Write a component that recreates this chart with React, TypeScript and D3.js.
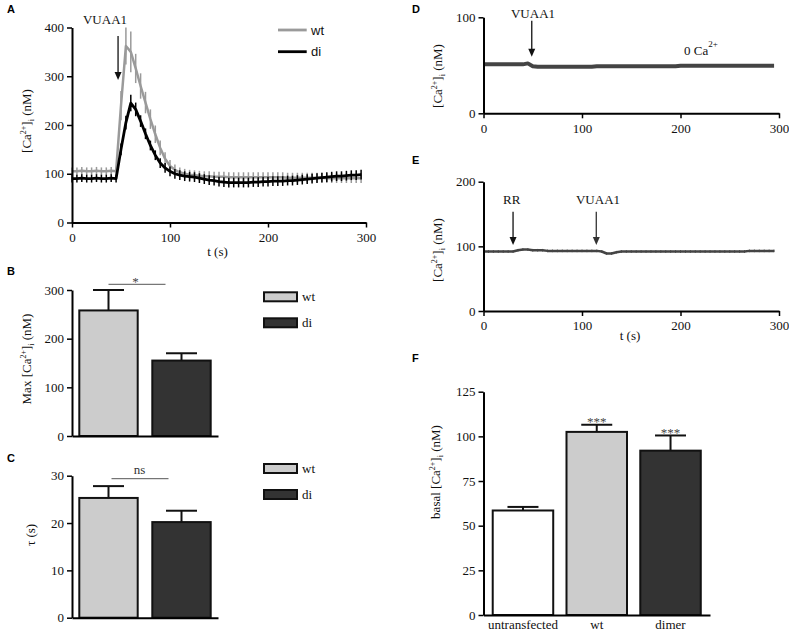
import { useEffect, useRef } from 'react'
import * as d3 from 'd3'

const SERIF = '"Liberation Serif", "Times New Roman", serif'
const SANS = '"Liberation Sans", Arial, sans-serif'

// sampling times (s) shared by the traces in A, D and E
const timePoints = [
	0, 5, 10, 15, 20, 25, 30, 35, 40, 45, 50, 55, 60, 65, 70, 75, 80, 85, 90, 95,
	100, 105, 110, 115, 120, 125, 130, 135, 140, 145, 150, 155, 160, 165, 170, 175, 180, 185, 190, 195,
	200, 205, 210, 215, 220, 225, 230, 235, 240, 245, 250, 255, 260, 265, 270, 275, 280, 285, 290, 295,
]

// A: mean [Ca2+]i traces
const wtMean = [
	105, 105, 106, 105, 105, 106, 105, 105, 106, 105, 240, 362, 350, 316, 280, 246, 212, 181, 153, 131,
	116, 108, 103, 100, 98, 97, 96, 95, 95, 94, 94, 94, 93, 93, 93, 93, 93, 93, 93, 93,
	93, 93, 93, 93, 92, 92, 92, 92, 92, 92, 92, 92, 91, 91, 91, 91, 91, 91, 91, 91,
]
const wtSem = [
	8, 8, 8, 8, 8, 8, 8, 8, 8, 8, 30, 38, 42, 30, 26, 22, 20, 18, 15, 13,
	12, 11, 10, 10, 10, 10, 10, 10, 10, 10, 10, 10, 10, 10, 10, 10, 10, 10, 10, 10,
	10, 10, 10, 10, 10, 10, 10, 10, 10, 10, 10, 10, 10, 10, 10, 10, 10, 10, 10, 10,
]
const diMean = [
	90, 90, 91, 90, 90, 91, 90, 90, 91, 90, 150, 205, 245, 232, 208, 182, 158, 138, 122, 112,
	105, 100, 97, 95, 94, 93, 91, 89, 87, 86, 84, 83, 82, 82, 82, 82, 82, 83, 83, 84,
	84, 85, 85, 85, 86, 86, 87, 88, 89, 90, 91, 92, 93, 94, 95, 95, 96, 97, 97, 98,
]
const diSem = [
	8, 8, 8, 8, 8, 8, 8, 8, 8, 8, 12, 14, 17, 14, 12, 11, 10, 10, 10, 10,
	10, 10, 10, 10, 10, 10, 10, 10, 10, 10, 10, 10, 10, 10, 10, 10, 10, 10, 10, 10,
	10, 10, 10, 10, 10, 10, 10, 10, 10, 10, 10, 10, 10, 10, 10, 10, 10, 10, 10, 10,
]

// D: 0 Ca2+ trace
const zeroCaMean = [
	51, 51, 51, 51, 51, 51, 51, 51, 51, 52, 49, 48.5, 48.5, 48.5, 48.5, 48.5, 48.5, 48.5, 48.5, 48.5,
	48.5, 48.5, 48.5, 49, 49, 49, 49, 49, 49, 49, 49, 49, 49, 49, 49, 49, 49, 49, 49, 49,
	49.5, 49.5, 49.5, 49.5, 49.5, 49.5, 49.5, 49.5, 49.5, 49.5, 49.5, 49.5, 49.5, 49.5, 49.5, 49.5, 49.5, 49.5, 49.5, 49.5,
]

// E: RR pre-treatment trace
const rrMean = [
	92, 92, 92, 92, 92, 92, 92, 94, 95, 95, 94, 94, 94, 93, 93, 93, 93, 93, 93, 93,
	93, 93, 93, 93, 92, 89, 89, 91, 92, 92, 92, 92, 92, 92, 92, 92, 92, 92, 92, 92,
	92, 92, 92, 92, 92, 92, 92, 92, 92, 92, 92, 92, 92, 92, 93, 93, 93, 93, 93, 93,
]
const rrSem = [
	2, 2, 2, 2, 2, 2, 2, 2, 2, 2, 2, 2, 2, 2, 2, 2, 2, 2, 2, 2,
	2, 2, 2, 2, 2, 2, 2, 2, 2, 2, 2, 2, 2, 2, 2, 2, 2, 2, 2, 2,
	2, 2, 2, 2, 2, 2, 2, 2, 2, 2, 2, 2, 2, 2, 2, 2, 2, 2, 2, 2,
]

// B, C: bar summaries
const groupsBC = ['wt', 'di']
const maxCa = [258, 155]
const maxCaSem = [42, 15]
const tau = [25.3, 20.2]
const tauSem = [2.5, 2.4]

// F: basal levels
const groupsF = ['untransfected', 'wt', 'dimer']
const basal = [58.5, 102.5, 92]
const basalSem = [2, 4, 8.5]
const basalSig = ['', '***', '***']

const timeTicks = [0, 100, 200, 300]

const App = () => {
	const svgRef = useRef(null)

	useEffect(() => {
		const svg = d3.select(svgRef.current)
		svg.selectAll('*').remove()

		const styleAxis = (g) => {
			g.attr('font-family', SERIF).attr('font-size', 13)
			g.select('.domain').attr('stroke', '#000').attr('stroke-width', 2)
			g.selectAll('.tick line').attr('stroke', '#000').attr('stroke-width', 1.5)
			g.selectAll('.tick text').attr('fill', '#111')
		}
		const leftAxis = (scale, x, ticks) => {
			svg
				.append('g')
				.attr('transform', `translate(${x},0)`)
				.call(d3.axisLeft(scale).tickValues(ticks).tickSize(5).tickSizeOuter(0).tickPadding(3))
				.call(styleAxis)
		}
		const bottomAxis = (scale, y, ticks) => {
			svg
				.append('g')
				.attr('transform', `translate(0,${y})`)
				.call(d3.axisBottom(scale).tickValues(ticks).tickSize(5).tickSizeOuter(0).tickPadding(5))
				.call(styleAxis)
		}
		const panelLetter = (x, y, s) => {
			svg
				.append('text')
				.attr('x', x)
				.attr('y', y)
				.attr('font-family', SANS)
				.attr('font-weight', 'bold')
				.attr('font-size', 11)
				.text(s)
		}
		const serifText = (x, y, s, anchor = 'middle', fill = '#111') => {
			svg
				.append('text')
				.attr('x', x)
				.attr('y', y)
				.attr('text-anchor', anchor)
				.attr('font-family', SERIF)
				.attr('font-size', 13)
				.attr('fill', fill)
				.text(s)
		}
		const caLabel = (cx, cy, prefix) => {
			const t = svg
				.append('text')
				.attr('transform', `translate(${cx},${cy}) rotate(-90)`)
				.attr('text-anchor', 'middle')
				.attr('font-family', SERIF)
				.attr('font-size', 13)
				.attr('fill', '#111')
			t.append('tspan').text(prefix + '[Ca')
			t.append('tspan').attr('font-size', 8).attr('dy', -5).text('2+')
			t.append('tspan').attr('dy', 5).text(']')
			t.append('tspan').attr('font-size', 8).attr('dy', 3).text('i')
			t.append('tspan').attr('dy', -3).text(' (nM)')
		}
		const arrow = (x, y1, y2, color = '#111') => {
			svg
				.append('line')
				.attr('x1', x)
				.attr('x2', x)
				.attr('y1', y1)
				.attr('y2', y2 - 6)
				.attr('stroke', color)
				.attr('stroke-width', 1.3)
			svg
				.append('path')
				.attr('d', `M${x - 3.5},${y2 - 8}L${x + 3.5},${y2 - 8}L${x},${y2}Z`)
				.attr('fill', color)
		}
		const trace = (xs, ys, mean, sem, color, width, tickWidth) => {
			if (sem) {
				svg
					.append('g')
					.selectAll('line')
					.data(mean)
					.join('line')
					.attr('x1', (d, i) => xs(timePoints[i]))
					.attr('x2', (d, i) => xs(timePoints[i]))
					.attr('y1', (d, i) => ys(d - sem[i]))
					.attr('y2', (d, i) => ys(d + sem[i]))
					.attr('stroke', color)
					.attr('stroke-width', tickWidth)
			}
			const line = d3
				.line()
				.x((d, i) => xs(timePoints[i]))
				.y((d) => ys(d))
			svg
				.append('path')
				.datum(mean)
				.attr('d', line)
				.attr('fill', 'none')
				.attr('stroke', color)
				.attr('stroke-width', width)
				.attr('stroke-linejoin', 'round')
		}
		const bars = (xb, ys, groups, values, sems, fills) => {
			const bw = xb.bandwidth()
			const g = svg.append('g')
			g.selectAll('line.err')
				.data(values)
				.join('line')
				.attr('class', 'err')
				.attr('x1', (d, i) => xb(groups[i]) + bw / 2)
				.attr('x2', (d, i) => xb(groups[i]) + bw / 2)
				.attr('y1', (d) => ys(d))
				.attr('y2', (d, i) => ys(d + sems[i]))
				.attr('stroke', '#111')
				.attr('stroke-width', 2)
			g.selectAll('line.cap')
				.data(values)
				.join('line')
				.attr('class', 'cap')
				.attr('x1', (d, i) => xb(groups[i]) + bw / 2 - 15.5)
				.attr('x2', (d, i) => xb(groups[i]) + bw / 2 + 15.5)
				.attr('y1', (d, i) => ys(d + sems[i]))
				.attr('y2', (d, i) => ys(d + sems[i]))
				.attr('stroke', '#111')
				.attr('stroke-width', 2)
			g.selectAll('rect')
				.data(values)
				.join('rect')
				.attr('x', (d, i) => xb(groups[i]))
				.attr('y', (d) => ys(d))
				.attr('width', bw)
				.attr('height', (d) => ys(0) - ys(d))
				.attr('fill', (d, i) => fills[i])
				.attr('stroke', '#111')
				.attr('stroke-width', 2)
		}
		const barLegend = (x, y, labels, fills) => {
			labels.forEach((s, i) => {
				svg
					.append('rect')
					.attr('x', x)
					.attr('y', y + i * 26)
					.attr('width', 33)
					.attr('height', 9)
					.attr('fill', fills[i])
					.attr('stroke', '#111')
					.attr('stroke-width', 2)
				serifText(x + 38, y + i * 26 + 9, s, 'start')
			})
		}

		// ---------- A ----------
		const xA = d3.scaleLinear().domain([0, 300]).range([72, 366])
		const yA = d3.scaleLinear().domain([0, 400]).range([222.5, 27.5])
		trace(xA, yA, wtMean, wtSem, '#9a9a9a', 2.5, 1.5)
		trace(xA, yA, diMean, diSem, '#000', 2.8, 1.5)
		leftAxis(yA, 72, [0, 100, 200, 300, 400])
		bottomAxis(xA, 222.5, timeTicks)
		panelLetter(7, 13, 'A')
		caLabel(31, 121, '')
		serifText(217.5, 256, 't (s)')
		serifText(105, 24, 'VUAA1')
		arrow(xA(47), 36, 80)
		// legend
		;[
			['wt', '#9a9a9a', 30],
			['di', '#000', 51.7],
		].forEach(([s, c, y]) => {
			svg
				.append('line')
				.attr('x1', 278)
				.attr('x2', 306.7)
				.attr('y1', y)
				.attr('y2', y)
				.attr('stroke', c)
				.attr('stroke-width', 2.8)
			svg
				.append('text')
				.attr('x', 311)
				.attr('y', y + 4.5)
				.attr('font-family', SANS)
				.attr('font-size', 13)
				.attr('fill', '#111')
				.text(s)
		})

		// ---------- B ----------
		const xB = d3.scaleBand().domain(groupsBC).range([72, 218]).paddingInner(0.2).paddingOuter(0.1)
		const yB = d3.scaleLinear().domain([0, 300]).range([436, 290])
		bars(xB, yB, groupsBC, maxCa, maxCaSem, ['#cccccc', '#333333'])
		leftAxis(yB, 72, [0, 100, 200, 300])
		svg
			.append('g')
			.attr('transform', 'translate(0,436)')
			.call(d3.axisBottom(xB).tickSize(0).tickSizeOuter(0).tickFormat(() => ''))
			.call(styleAxis)
		panelLetter(7, 275, 'B')
		caLabel(31, 359, 'Max ')
		const bStart = xB('wt') + xB.bandwidth() / 2
		svg
			.append('line')
			.attr('x1', bStart)
			.attr('x2', bStart + 57)
			.attr('y1', 284.3)
			.attr('y2', 284.3)
			.attr('stroke', '#555')
			.attr('stroke-width', 1)
		serifText(bStart + 27, 286, '*', 'middle', '#444')
		barLegend(264, 292.3, groupsBC, ['#cccccc', '#333333'])

		// ---------- C ----------
		const xC = d3.scaleBand().domain(groupsBC).range([72, 218]).paddingInner(0.2).paddingOuter(0.1)
		const yC = d3.scaleLinear().domain([0, 30]).range([617.7, 475.7])
		bars(xC, yC, groupsBC, tau, tauSem, ['#cccccc', '#333333'])
		leftAxis(yC, 72, [0, 10, 20, 30])
		svg
			.append('g')
			.attr('transform', 'translate(0,617.7)')
			.call(d3.axisBottom(xC).tickSize(0).tickSizeOuter(0).tickFormat(() => ''))
			.call(styleAxis)
		panelLetter(7, 462, 'C')
		svg
			.append('text')
			.attr('transform', 'translate(35,535) rotate(-90)')
			.attr('text-anchor', 'middle')
			.attr('font-family', SERIF)
			.attr('font-size', 13)
			.attr('fill', '#111')
			.text('τ (s)')
		const cStart = xC('wt') + xC.bandwidth() / 2 + 3
		svg
			.append('line')
			.attr('x1', cStart)
			.attr('x2', cStart + 57)
			.attr('y1', 478.7)
			.attr('y2', 478.7)
			.attr('stroke', '#555')
			.attr('stroke-width', 1)
		serifText(cStart + 28, 474, 'ns', 'middle', '#333')
		barLegend(264, 464, groupsBC, ['#cccccc', '#333333'])

		// ---------- D ----------
		const xD = d3.scaleLinear().domain([0, 300]).range([483.5, 779])
		const yD = d3.scaleLinear().domain([0, 100]).range([113.3, 17.3])
		trace(xD, yD, zeroCaMean, null, '#444', 4, 0)
		leftAxis(yD, 483.5, [0, 100])
		bottomAxis(xD, 113.3, timeTicks)
		panelLetter(412, 13, 'D')
		caLabel(442, 76, '')
		serifText(533, 17.5, 'VUAA1')
		arrow(xD(49), 20.7, 56.7)
		const ca0 = svg
			.append('text')
			.attr('x', 684)
			.attr('y', 55)
			.attr('font-family', SERIF)
			.attr('font-size', 13)
			.attr('fill', '#111')
		ca0.append('tspan').text('0 Ca')
		ca0.append('tspan').attr('font-size', 9).attr('dy', -8).text('2+')

		// ---------- E ----------
		const xE = d3.scaleLinear().domain([0, 300]).range([483.5, 779])
		const yE = d3.scaleLinear().domain([0, 200]).range([311, 181.7])
		trace(xE, yE, rrMean, rrSem, '#444', 2.5, 1)
		leftAxis(yE, 483.5, [0, 100, 200])
		bottomAxis(xE, 311, timeTicks)
		panelLetter(412, 164, 'E')
		caLabel(442, 250, '')
		serifText(630, 340, 't (s)')
		serifText(511.7, 203.5, 'RR')
		serifText(598, 203.5, 'VUAA1')
		arrow(xE(30), 211.7, 245)
		arrow(xE(114.5), 211.7, 245, '#333')

		// ---------- F ----------
		const xF = d3.scaleBand().domain(groupsF).range([483.5, 710]).paddingInner(0.18).paddingOuter(0.125)
		const yF = d3.scaleLinear().domain([0, 125]).range([615, 391.7])
		bars(xF, yF, groupsF, basal, basalSem, ['#ffffff', '#cccccc', '#333333'])
		leftAxis(yF, 483.5, [0, 25, 50, 75, 100, 125])
		svg
			.append('g')
			.attr('transform', 'translate(0,615)')
			.call(d3.axisBottom(xF).tickSize(0).tickSizeOuter(0).tickPadding(5))
			.call(styleAxis)
		groupsF.forEach((gname, i) => {
			if (!basalSig[i]) return
			serifText(xF(gname) + xF.bandwidth() / 2, yF(basal[i] + basalSem[i]) + 1.5, basalSig[i], 'middle', '#444')
		})
		panelLetter(412, 362, 'F')
		caLabel(440, 472, 'basal ')
	}, [])

	return (
		<svg
			ref={svgRef}
			width={789}
			height={633}
			viewBox="0 0 789 633"
			style={{ position: 'absolute', left: 0, top: 0, background: '#fff' }}
		></svg>
	)
}

export default App
